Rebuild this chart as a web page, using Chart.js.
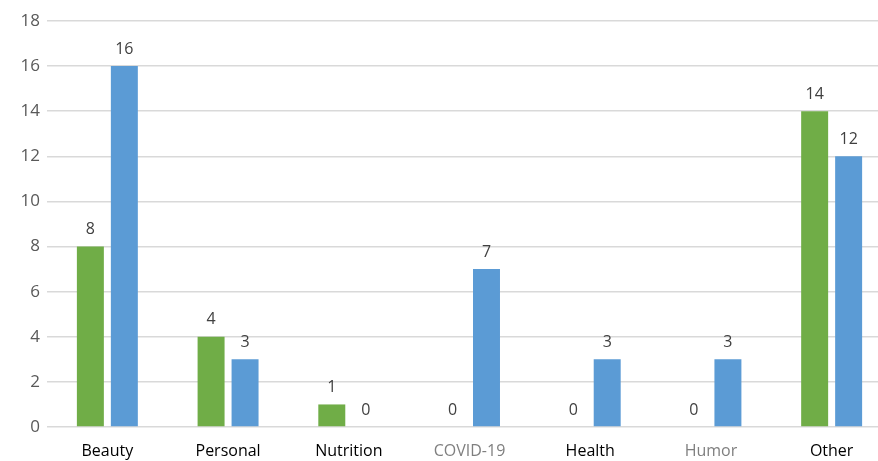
<!DOCTYPE html>
<html>
<head>
<meta charset="utf-8">
<script src="https://cdn.jsdelivr.net/npm/chart.js@4.4.0/dist/chart.umd.min.js"></script>
<style>
  html, body { margin: 0; padding: 0; background: #fff; overflow: hidden; }
  #wrap { width: 892px; height: 461px; }
</style>
</head>
<body>
<div id="wrap"><canvas id="chart"></canvas></div>
<script>
const categories = ["Beauty", "Personal", "Nutrition", "COVID-19", "Health", "Humor", "Other"];
const greenValues = [8, 4, 1, 0, 0, 0, 14];
const blueValues = [16, 3, 0, 7, 3, 3, 12];
const yTicks = [0, 2, 4, 6, 8, 10, 12, 14, 16, 18];
const categoryColors = ["#000", "#000", "#000", "#7f7f7f", "#000", "#7f7f7f", "#000"];

// draws the value above each bar
const valueLabels = {
    id: 'valueLabels',
    afterDatasetsDraw: (chart) => {
        const ctx = chart.ctx;
        ctx.save();
        ctx.font = '16px "Open Sans", sans-serif';
        ctx.fillStyle = '#404040';
        ctx.textAlign = 'center';
        ctx.textBaseline = 'bottom';
        chart.data.datasets.forEach((ds, i) => {
            chart.getDatasetMeta(i).data.forEach((bar, j) => {
                ctx.fillText(ds.data[j], bar.x, bar.y - 9);
            });
        });
        ctx.restore();
    }
};

const ctx = document.getElementById('chart').getContext('2d');

new Chart(ctx, {
    type: 'bar',
    data: {
        labels: categories,
        datasets: [
            {
                label: 'Series 1',
                data: greenValues,
                backgroundColor: '#70ad47',
                categoryPercentage: 0.563,
                barPercentage: 0.794
            },
            {
                label: 'Series 2',
                data: blueValues,
                backgroundColor: '#5b9bd5',
                categoryPercentage: 0.563,
                barPercentage: 0.794
            }
        ]
    },
    options: {
        responsive: true,
        maintainAspectRatio: false,
        animation: false,
        layout: {
            padding: { top: 21, right: 0, left: 0, bottom: 0 }
        },
        plugins: {
            legend: { display: false },
            tooltip: { enabled: false }
        },
        scales: {
            y: {
                min: 0,
                max: 18,
                afterBuildTicks: (scale) => {
                    scale.ticks = yTicks.map(v => ({ value: v }));
                },
                afterFit: (scale) => {
                    scale.width = 47;
                },
                border: { display: false },
                grid: { color: '#d9d9d9', lineWidth: 1.5, drawTicks: false },
                ticks: {
                    color: '#595959',
                    padding: 7,
                    font: { family: '"Open Sans", sans-serif', size: 17 }
                }
            },
            x: {
                border: { display: false },
                grid: { display: false },
                afterFit: (scale) => {
                    scale.height = 34;
                },
                ticks: {
                    color: categoryColors,
                    padding: 7,
                    font: { family: '"Open Sans", sans-serif', size: 16 }
                }
            }
        }
    },
    plugins: [valueLabels]
});
</script>
</body>
</html>
